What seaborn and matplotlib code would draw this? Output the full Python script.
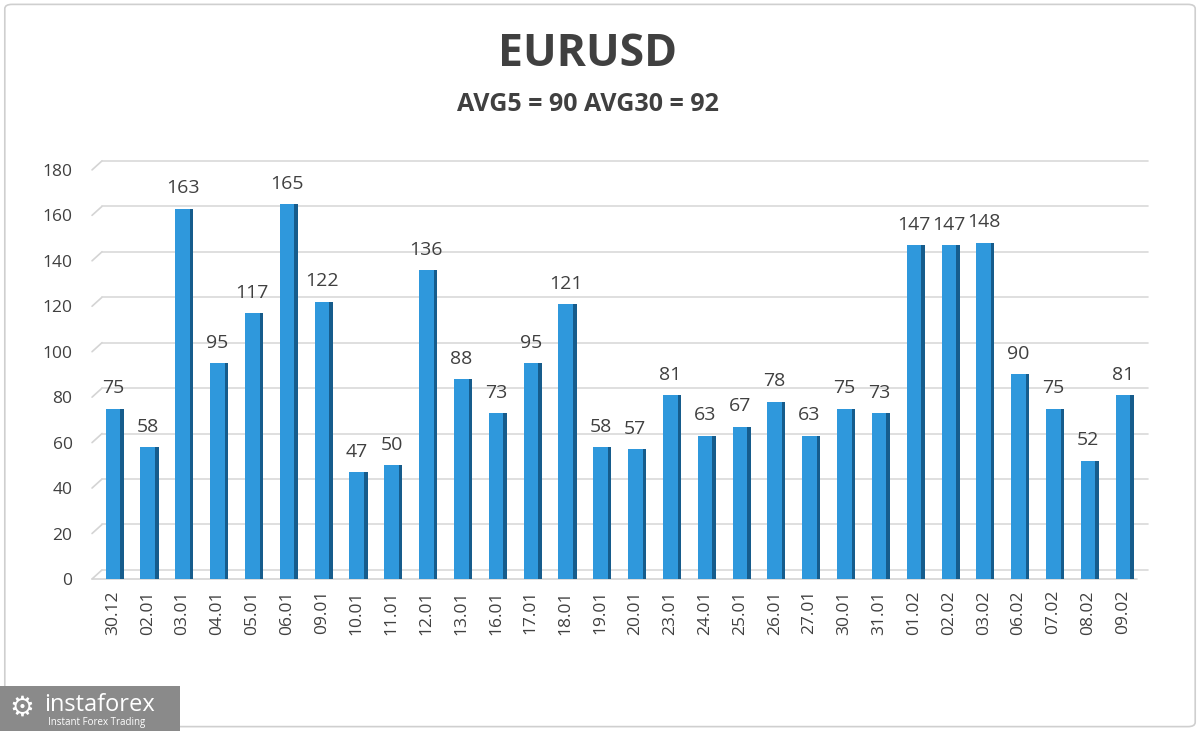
import numpy as np
import pandas as pd
import matplotlib
matplotlib.use("Agg")
import matplotlib.pyplot as plt
import seaborn as sns
from matplotlib.patches import FancyBboxPatch, Rectangle

dates = ["30.12", "02.01", "03.01", "04.01", "05.01", "06.01", "09.01", "10.01",
         "11.01", "12.01", "13.01", "16.01", "17.01", "18.01", "19.01", "20.01",
         "23.01", "24.01", "25.01", "26.01", "27.01", "30.01", "31.01", "01.02",
         "02.02", "03.02", "06.02", "07.02", "08.02", "09.02"]
values = [75, 58, 163, 95, 117, 165, 122, 47, 50, 136, 88, 73, 95, 121, 58, 57,
          81, 63, 67, 78, 63, 75, 73, 147, 147, 148, 90, 75, 52, 81]
yticks = [0, 20, 40, 60, 80, 100, 120, 140, 160, 180]

df = pd.DataFrame({"date": dates, "value": values})

sns.set_style("white")
plt.rcParams["font.family"] = ["Open Sans", "DejaVu Sans"]
txt = "#404040"

fig = plt.figure(figsize=(12, 7.31), dpi=100)
ax = fig.add_axes([0.0767, 0.208, 0.880, 0.572])

# grid lines with a small slanted "3D" lead-in on the left
depth = 4.0
gtrans = ax.get_yaxis_transform()
for t in yticks:
    ax.plot([0.0, 0.0095], [t, t + depth], color="#d4d4d4", lw=1.2,
            transform=gtrans, clip_on=False, zorder=0)
    ax.plot([0.0095, 1.0], [t + depth, t + depth], color="#d9d9d9", lw=1.2,
            transform=gtrans, clip_on=False, zorder=0)
# front edge of the floor
ax.plot([0.0, 0.99], [0, 0], color="#d4d4d4", lw=1.2, transform=gtrans,
        clip_on=False, zorder=0)

# darker side face to fake the 3D look
pos = np.arange(len(values))
ax.bar(pos + 0.1, values, width=0.42, color="#165c8c", linewidth=0, zorder=2)
sns.barplot(data=df, x="date", y="value", color="#2f98dc", width=0.42,
            saturation=1, linewidth=0, ax=ax, zorder=3)

for p, v in zip(pos, values):
    ax.text(p, v + 5, str(v), ha="center", va="bottom", fontsize=14, color=txt)

ax.set_ylim(0, 184)
ax.set_xlim(-0.60, 29.72)
ax.set_yticks(yticks)
ax.grid(False)
for s in ax.spines.values():
    s.set_visible(False)
ax.set_xlabel("")
ax.set_ylabel("")
ax.tick_params(axis="y", labelsize=12.5, labelcolor=txt, length=0, pad=14)
ax.tick_params(axis="x", labelsize=12.5, labelcolor=txt, length=0, pad=8,
               rotation=90)

fig.text(0.49, 0.926, "EURUSD", ha="center", va="center", fontsize=32,
         fontweight="bold", color=txt)
fig.text(0.49, 0.857, "AVG5 = 90 AVG30 = 92", ha="center", va="center",
         fontsize=18, fontweight="bold", color=txt)

# outer frame
fig.patches.append(FancyBboxPatch((0.004, 0.006), 0.992, 0.988,
                                  boxstyle="round,pad=0,rounding_size=0.006",
                                  transform=fig.transFigure, fill=False,
                                  edgecolor="#cfcfcf", linewidth=1.2))

# logo box
fig.patches.append(Rectangle((0, 0), 0.15, 0.062, transform=fig.transFigure,
                             facecolor="#8a8a8a", edgecolor="none"))
fig.text(0.037, 0.036, "instaforex", fontsize=17, color="white", va="center")
fig.text(0.040, 0.012, "Instant Forex Trading", fontsize=7, color="white",
         va="center")
fig.text(0.018, 0.032, "\u2699", fontsize=20, color="white", va="center",
         ha="center", family=["DejaVu Sans"])

fig.savefig("out.png", dpi=100)
